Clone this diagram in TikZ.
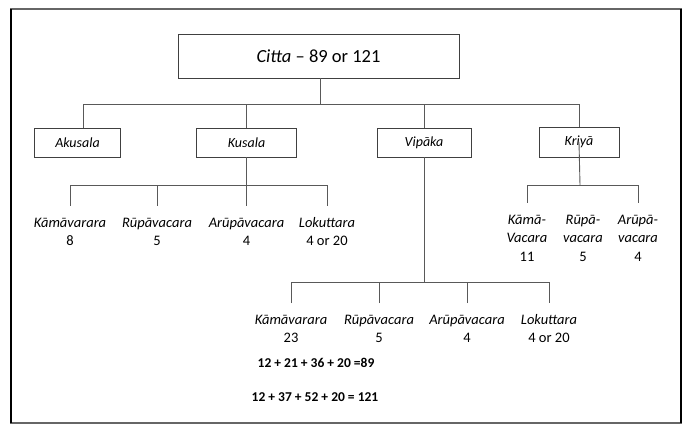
\documentclass[tikz,border=0pt]{standalone}
\usepackage{fontspec}
\setmainfont{Carlito}

\begin{document}
\begin{tikzpicture}[x=1pt,y=-1pt,
  box/.style={draw=black!75, line width=0.9pt, inner sep=0pt,
    font=\fontsize{14}{17}\selectfont\itshape},
  item/.style={anchor=north, align=center, inner xsep=1pt, inner ysep=8pt,
    font=\fontsize{14.5}{18.5}\selectfont},
  sum/.style={font=\fontsize{13.5}{16}\selectfont\bfseries},
  link/.style={draw=black!65, line width=0.9pt}]

\useasboundingbox (0,0) rectangle (686,425);

% Outer frame
\draw[black!60, line width=1.4pt] (11,9) rectangle (681,423);
\draw[line width=2.6pt] (11,9) -- (11,423);
\draw[line width=2.6pt] (681,9) -- (681,423);

% Top box
\node[box, minimum width=281pt, minimum height=44pt,
  font=\fontsize{18.5}{22}\selectfont] (citta) at (318.5,56)
  {\textit{Citta} – 89 or 121};

% Four main boxes
\node[box, minimum width=86pt, minimum height=29pt] (akusala) at (77.5,142.5) {Akusala};
\node[box, minimum width=100pt, minimum height=29pt] (kusala) at (246.5,142.5) {Kusala};
\node[box, minimum width=94pt, minimum height=29pt] (vipaka) at (424,142.5) {Vipāka};
\node[box, minimum width=80pt, minimum height=30pt] (kriya) at (579,142) {Kriyā};

% Main bus
\coordinate (bus) at (320,104);
\draw[link] (bus |- citta.south) -- (bus);
\draw[link] ([xshift=5.5pt]akusala.north) |- (kriya.north |- bus) -- (kriya.north);
\draw[link] (kusala.north) -- (kusala.north |- bus);
\draw[link] (vipaka.north) -- (vipaka.north |- bus);

% Kusala branch
\node[item] (k1) at (70,206) {\strut\textit{Kāmāvarara}\\8};
\node[item] (k2) at (157,206) {\strut\textit{Rūpāvacara}\\5};
\node[item] (k3) at (246.5,206) {\strut\textit{Arūpāvacara}\\4};
\node[item] (k4) at (327,206) {\strut\textit{Lokuttara}\\4 or 20};
\coordinate (kbus) at (246.5,185);
\draw[link] (kusala.south) -- (k3.north);
\draw[link] (k1.north) |- (k4.north |- kbus) -- (k4.north);
\draw[link] (k2.north) -- (k2.north |- kbus);

% Vipaka branch
\node[item] (v1) at (291,303) {\strut\textit{Kāmāvarara}\\23};
\node[item] (v2) at (379,303) {\strut\textit{Rūpāvacara}\\5};
\node[item] (v3) at (467,303) {\strut\textit{Arūpāvacara}\\4};
\node[item] (v4) at (549,303) {\strut\textit{Lokuttara}\\4 or 20};
\coordinate (vbus) at (424,282);
\draw[link] (vipaka.south) -- (vipaka.south |- vbus);
\draw[link] (v1.north) |- (v4.north |- vbus) -- (v4.north);
\draw[link] (v2.north) -- (v2.north |- vbus);
\draw[link] (v3.north) -- (v3.north |- vbus);

% Kriya branch
\node[item] (r1) at (527,203) {\strut\textit{Kāmā-}\\\textit{Vacara}\\11};
\node[item] (r2) at (583,203) {\strut\textit{Rūpā-}\\\textit{vacara}\\5};
\node[item] (r3) at (638,203) {\strut\textit{Arūpā-}\\\textit{vacara}\\4};
\coordinate (rbus) at (580,185);
\draw[link] (kriya.center) -- (rbus);
\draw[link] (r1.north) |- (r3.north |- rbus) -- (r3.north);

% Totals
\node[sum] (sum89) at (316,363) {12 + 21 + 36 + 20 =89};
\node[sum] (sum121) at (315,397) {12 + 37 + 52 + 20 = 121};

\end{tikzpicture}
\end{document}
